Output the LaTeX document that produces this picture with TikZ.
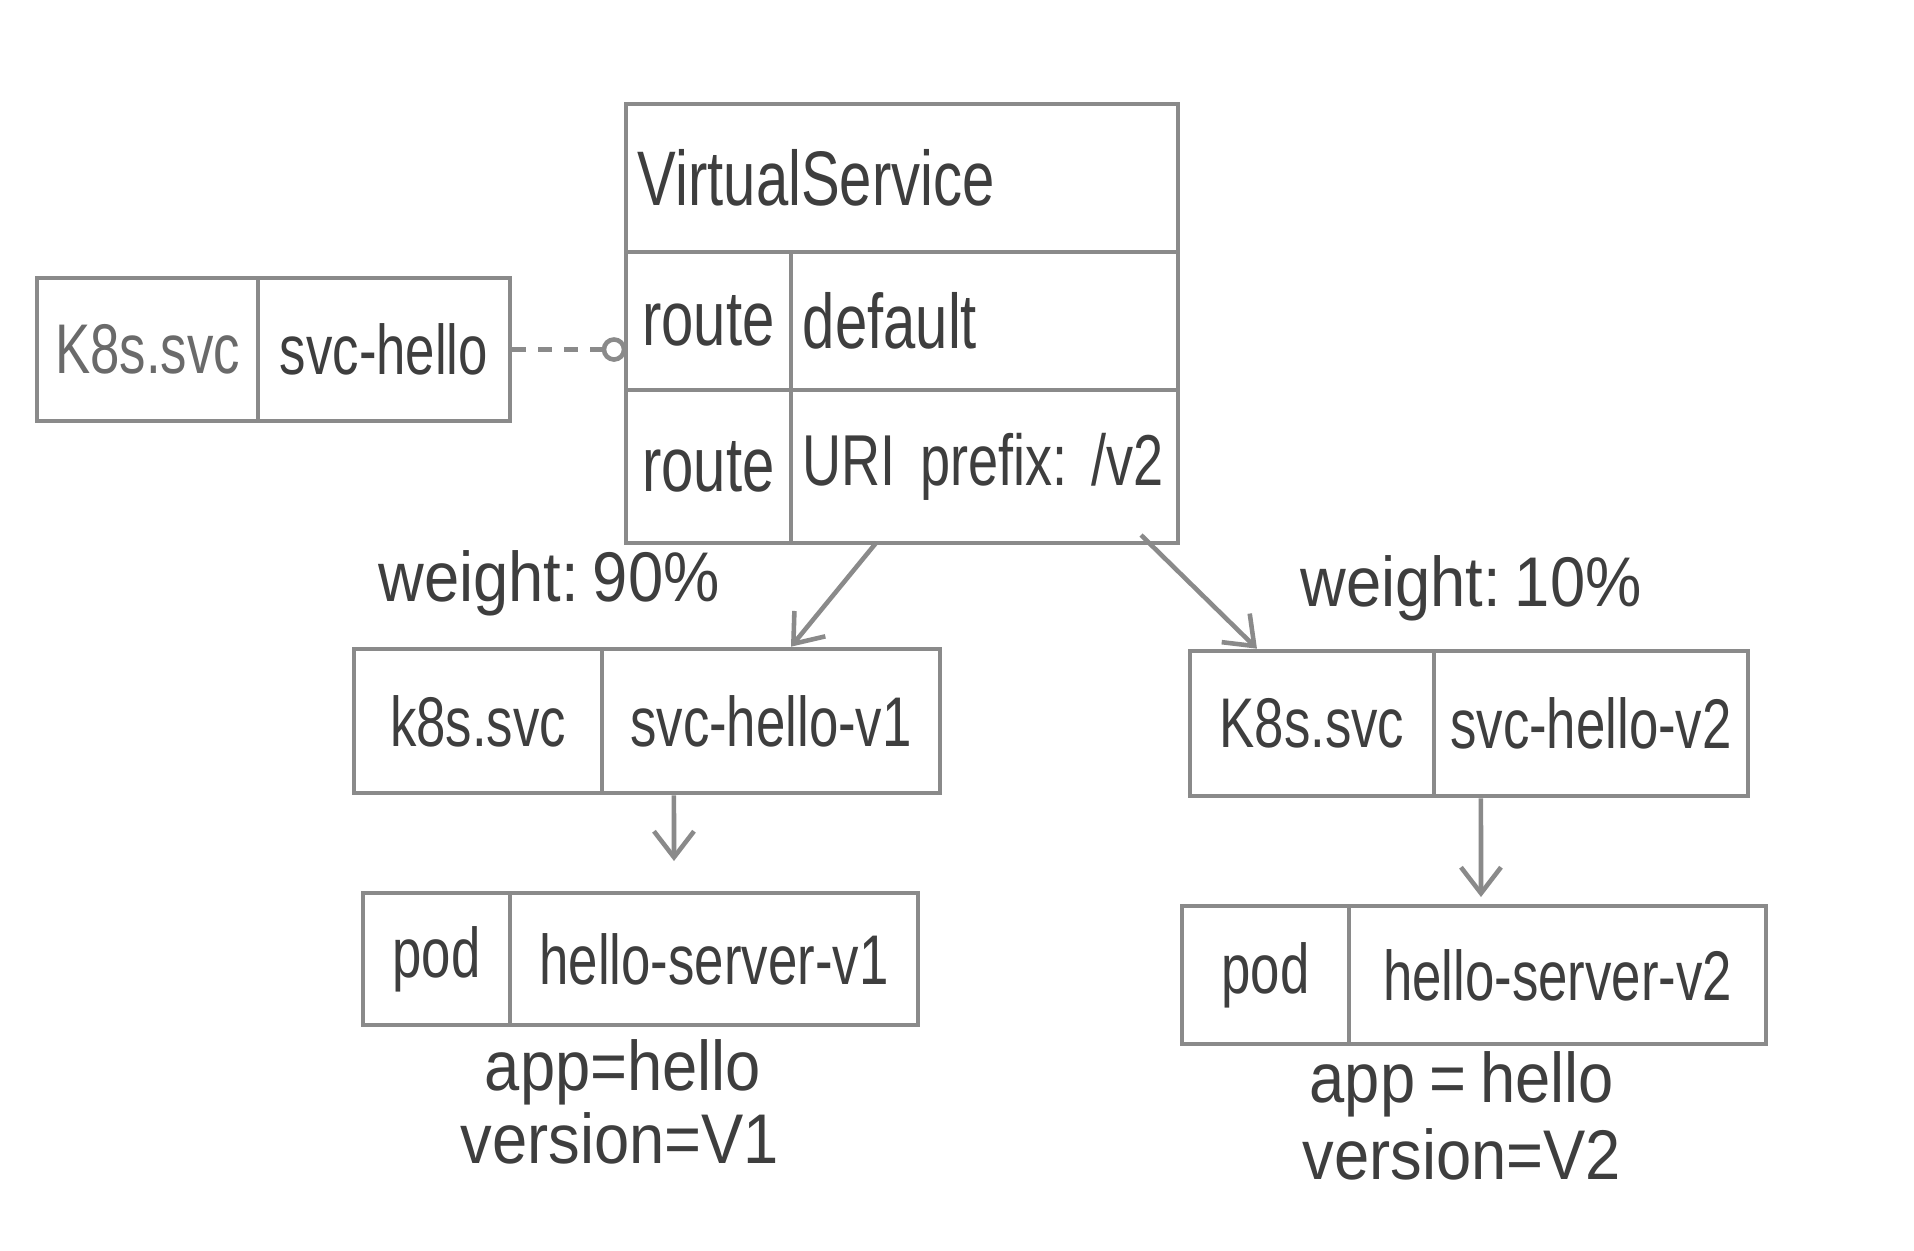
\documentclass[tikz,border=0pt]{standalone}
\usepackage{fontspec}
\setmainfont{Liberation Sans}[FakeStretch=0.75,WordSpace=0.5]
\newfontfamily\labfont{Liberation Sans}[FakeStretch=0.9,WordSpace=0.8]
\usetikzlibrary{arrows.meta,calc}
\definecolor{pencil}{HTML}{8A8A8A}
\definecolor{ink}{HTML}{3E3E3E}
\definecolor{lightink}{HTML}{6A6A6A}
\frenchspacing
\begin{document}
\begin{tikzpicture}[x=0.01cm,y=-0.01cm,
  cell/.style={draw=pencil, line width=1.3pt, inner sep=0pt, text=ink,
    font=\fontsize{20}{24}\selectfont},
  vscell/.style={cell, font=\fontsize{22}{26}\selectfont},
  vsleft/.style={vscell, align=left, inner xsep=0.12cm},
  lab/.style={text=ink, inner sep=0pt, font=\labfont\fontsize{20}{24}\selectfont},
  arr/.style={draw=pencil, line width=1.3pt, -{Straight Barb[length=0.26cm,width=0.4cm,line width=1.3pt]}},
  link/.style={draw=pencil, line width=1.3pt, dash pattern=on 0.14cm off 0.12cm},
  dot/.style={circle, draw=pencil, line width=1.3pt, fill=white, minimum size=0.2cm, inner sep=0pt}
]
\useasboundingbox[fill=white] (0,0) rectangle (1914,1250);

% left k8s svc
\node[cell, text=lightink, minimum width=2.21cm, minimum height=1.43cm] (k0) at (147.5,349.5) {K8s.svc};
\node[cell, minimum width=2.52cm, minimum height=1.43cm] (s0) at (384,349.5) {svc-hello};

% VirtualService
\node[vsleft, text width=5.28cm, minimum height=1.48cm] (vs) at (902,178) {VirtualService};
\node[vscell, minimum width=1.65cm, minimum height=1.38cm] (r1) at (708.5,321) {route};
\node[vsleft, text width=3.63cm, minimum height=1.38cm] (r1v) at (984.5,321) {default};
\node[vscell, minimum width=1.65cm, minimum height=1.53cm] (r2) at (708.5,466.5) {route};
\node[vsleft, text width=3.63cm, minimum height=1.53cm, font=\fontsize{20.5}{25}\selectfont] (r2v) at (984.5,466.5) {\mbox{URI prefix: /v2}};

\node[dot] (c0) at (614,349.5) {};
\draw[link] (s0.east) -- (c0.west);

% v1 svc
\node[cell, minimum width=2.48cm, minimum height=1.44cm] (k1) at (478,721) {k8s.svc};
\node[cell, minimum width=3.38cm, minimum height=1.44cm] (s1) at (771,721) {svc-hello-v1};
% v2 svc
\node[cell, minimum width=2.44cm, minimum height=1.45cm] (k2) at (1312,723.5) {K8s.svc};
\node[cell, minimum width=3.14cm, minimum height=1.45cm] (s2) at (1591,723.5) {svc-hello-v2};

% pods
\node[cell, minimum width=1.47cm, minimum height=1.32cm] (p1) at (436.5,959) {pod};
\node[cell, minimum width=4.08cm, minimum height=1.32cm] (h1) at (714,959) {hello-server-v1};
\node[cell, minimum width=1.67cm, minimum height=1.38cm] (p2) at (1265.5,975) {pod};
\node[cell, minimum width=4.17cm, minimum height=1.38cm] (h2) at (1557.5,975) {hello-server-v2};

% weights
\node[lab] (w1) at (549,583) {weight: 90\%};
\node[lab] (w2) at (1471,588) {weight: 10\%};

% labels
\node[lab] (l1a) at (623,1072) {app=hello};
\node[lab] (l1b) at (620,1138) {version=V1};
\node[lab] (l2a) at (1462,1084) {app = hello};
\node[lab] (l2b) at (1462,1154) {version=V2};

% arrows
\coordinate (a1s) at (876,543);
\coordinate (a2s) at (1141,535);
\coordinate (a3e) at (674,861);
\coordinate (a4e) at (1481,897);
\draw[arr] (a1s) -- ([xshift=0.2cm]s1.north);
\draw[arr] (a2s) -- ([xshift=-0.55cm]k2.north);
\draw[arr] ([xshift=-0.97cm]s1.south) -- (a3e);
\draw[arr] ([xshift=-1.1cm]s2.south) -- (a4e);
\end{tikzpicture}
\end{document}
